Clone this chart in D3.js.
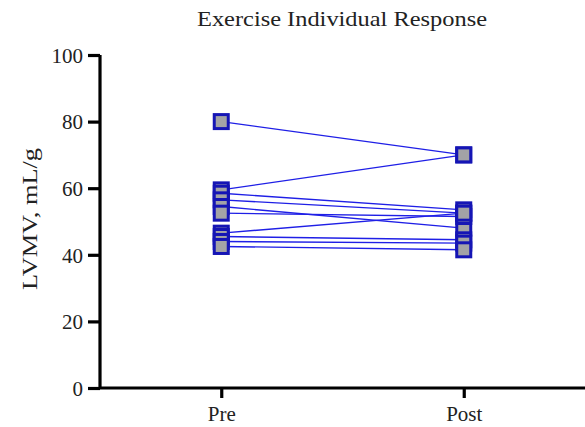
<!DOCTYPE html>
<html lang="en">
<head>
  <meta charset="UTF-8">
  <title>Exercise Individual Response</title>
  <script src="https://d3js.org/d3.v7.min.js"></script>
  <style>
    body { margin: 0; background: #fff; }
    svg { display: block; }
    text { font-family: "Liberation Serif", "DejaVu Serif", serif; fill: #222; }
  </style>
</head>
<body>
  <svg width="585" height="427"></svg>

  <script>
    const timepoints = ["Pre", "Post"];
    const preValues  = [80, 59.5, 58.5, 56.5, 54.5, 52.5, 46.5, 45.5, 44, 42.5];
    const postValues = [70, 70, 53.5, 52.5, 48, 51.5, 52.5, 44.5, 43.5, 41.5];
    const yTicks = [0, 20, 40, 60, 80, 100];

    const subjects = preValues.map((v, i) => [
      { t: "Pre", v: v },
      { t: "Post", v: postValues[i] }
    ]);

    const svg = d3.select("svg");
    const plotLeft = 100, plotRight = 585, plotTop = 55, plotBottom = 388;

    const x = d3.scalePoint().domain(timepoints).range([plotLeft, plotRight]).padding(0.5);
    const y = d3.scaleLinear().domain([0, 100]).range([plotBottom, plotTop]);

    // title
    svg.append("text")
      .attr("x", 342).attr("y", 26)
      .attr("text-anchor", "middle")
      .attr("font-size", 21)
      .attr("textLength", 290)
      .attr("lengthAdjust", "spacingAndGlyphs")
      .text("Exercise Individual Response");

    // y label
    svg.append("text")
      .attr("transform", `translate(37,219) rotate(-90)`)
      .attr("text-anchor", "middle")
      .attr("font-size", 21)
      .attr("textLength", 142)
      .attr("lengthAdjust", "spacingAndGlyphs")
      .text("LVMV, mL/g");

    // axes
    const yAxis = svg.append("g")
      .attr("transform", `translate(${plotLeft},0)`)
      .call(d3.axisLeft(y).tickValues(yTicks).tickSize(12).tickPadding(5));
    const xAxis = svg.append("g")
      .attr("transform", `translate(0,${plotBottom})`)
      .call(d3.axisBottom(x).tickSize(10).tickPadding(6));

    [yAxis, xAxis].forEach(g => {
      g.attr("font-family", null);
      g.select(".domain").attr("stroke", "#000").attr("stroke-width", 3.2);
      g.selectAll(".tick line").attr("stroke", "#000").attr("stroke-width", 3.2);
      g.selectAll(".tick text").attr("font-size", 21).attr("fill", "#222");
    });
    yAxis.select(".domain").attr("d", `M0,${plotTop}V${plotBottom}`);
    yAxis.selectAll(".tick text").attr("dy", "0.35em");
    xAxis.select(".domain").attr("d", `M${plotLeft},0H${plotRight}`);
    xAxis.selectAll(".tick text").attr("dy", "0.8em");

    // lines
    const line = d3.line().x(d => x(d.t)).y(d => y(d.v));
    svg.append("g").selectAll("path")
      .data(subjects).enter().append("path")
      .attr("d", line)
      .attr("fill", "none")
      .attr("stroke", "#1f1fe6")
      .attr("stroke-width", 1.4);

    // markers
    const pts = subjects.flat();
    const s = 14;
    svg.append("g").selectAll("rect")
      .data(pts).enter().append("rect")
      .attr("x", d => x(d.t) - s / 2)
      .attr("y", d => y(d.v) - s / 2)
      .attr("width", s).attr("height", s)
      .attr("fill", "#a3a3a6")
      .attr("stroke", "#1515b5")
      .attr("stroke-width", 3);
  </script>
</body>
</html>
